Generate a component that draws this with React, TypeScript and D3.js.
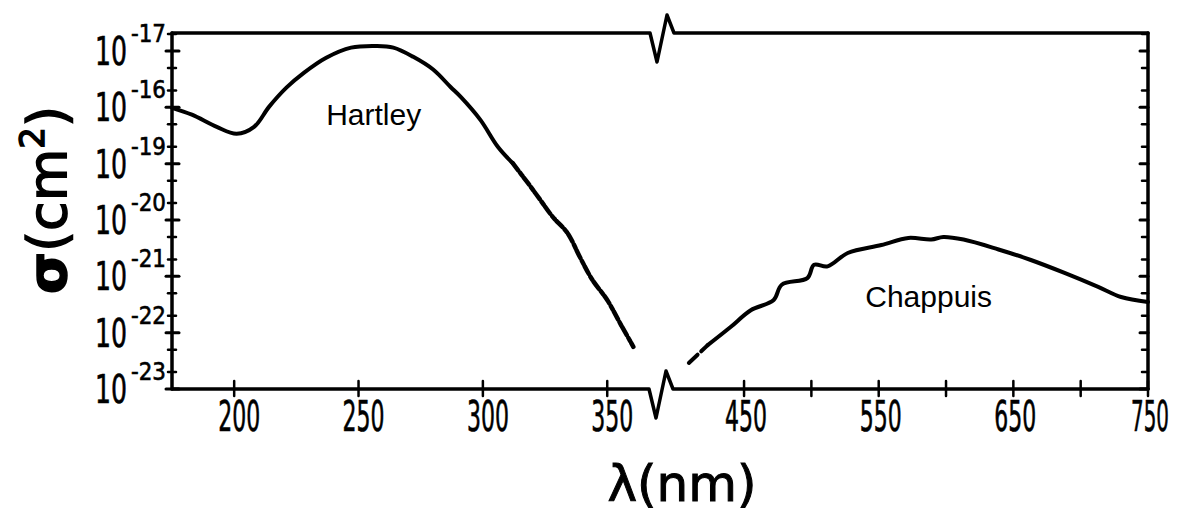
import React from "react";
import * as d3 from "d3";

// ---- data ----
const hartleyNm = [175, 183, 193, 201, 208, 214, 221, 228, 237, 247, 257, 264, 272, 280, 287, 291, 299, 306, 312, 318, 323, 328, 334, 339, 344, 350, 356, 359, 360.5];
const hartleySigma = [9.8e-19, 7.4e-19, 4.5e-19, 3.4e-19, 4.5e-19, 1.02e-18, 2.24e-18, 4.1e-18, 7.6e-18, 1.15e-17, 1.23e-17, 1.15e-17, 7.9e-18, 4.7e-18, 2.3e-18, 1.55e-18, 6.0e-19, 2.0e-19, 1.02e-19, 4.6e-20, 2.3e-20, 1.15e-20, 5.9e-21, 2.2e-21, 8.7e-22, 3.8e-22, 1.26e-22, 7.4e-23, 5.6e-23];

const chappuisNm = [409, 423, 440, 455, 472, 478, 497, 502, 512, 527, 552, 572, 589, 598, 613, 639, 663, 688, 713, 730, 750];
const chappuisSigma = [2.9e-23, 6.0e-23, 1.26e-22, 2.5e-22, 3.8e-22, 7.1e-22, 9.3e-22, 1.6e-21, 1.5e-21, 2.6e-21, 3.6e-21, 4.8e-21, 4.5e-21, 5.0e-21, 4.5e-21, 3.0e-21, 1.95e-21, 1.15e-21, 6.5e-22, 4.3e-22, 3.5e-22];

const xTicksLeft = [200, 250, 300, 350];
const xTicksRight = [450, 500, 550, 600, 650, 700, 750];
const xLabelsRight = [450, 550, 650, 750];
const yDecades = [-23, -22, -21, -20, -19, -18, -17];
const yExpLabels = ["-23", "-22", "-21", "-20", "-19", "-16", "-17"];
const minorMults = [2, 5];
const bandNames = ["Hartley", "Chappuis"];

export default function App() {
  const W = 1178, H = 508;
  const left = 172, right = 1148, top = 33, bottom = 389;
  const xL = d3.scaleLinear().domain([175, 368]).range([left, 652]);
  const xR = d3.scaleLinear().domain([395, 750]).range([670, right]);
  const yMax = Math.pow(10, -16.68);
  const y = d3.scaleLog().domain([1e-23, yMax]).range([bottom, top]);

  const hartleyPts = hartleyNm.map((n, i) => [xL(n), y(hartleySigma[i])] as [number, number]);
  const chapPts = chappuisNm.map((n, i) => [xR(n), y(chappuisSigma[i])] as [number, number]);
  const line = d3.line().curve(d3.curveCatmullRom.alpha(0.5));
  const hSplit = 18;
  const hSolid = line(hartleyPts.slice(0, hSplit + 1)) || "";
  const hTail = line(hartleyPts.slice(hSplit)) || "";
  const cHead = line(chapPts.slice(0, 2)) || "";
  const cRest = line(chapPts.slice(1)) || "";

  const bx0 = 649; // break start
  const breakPath = (yy: number, bx: number) =>
    `M${left},${yy}H${bx}L${bx + 7},${yy + 29}L${bx + 17},${yy - 18}L${bx + 24},${yy}H${right}`;

  const minorTicks: number[] = [];
  yDecades.forEach((e) => {
    minorMults.forEach((m) => {
      const v = m * Math.pow(10, e);
      if (v < yMax) minorTicks.push(v);
    });
  });

  const tickFont = "'Liberation Sans Narrow', 'DejaVu Sans Condensed', 'Liberation Sans', sans-serif";
  const sw = 3.5;

  return (
    <div style={{ position: "absolute", left: 0, top: 0 }}>
      <svg width={W} height={H} style={{ display: "block", background: "#fff" }}>
        <g fill="none" stroke="#000" strokeLinecap="round" strokeLinejoin="round">
          {/* frame */}
          <path d={breakPath(bottom, bx0)} strokeWidth={sw} />
          <path d={breakPath(top, bx0 + 1)} strokeWidth={sw} />
          <line x1={left} x2={left} y1={top} y2={bottom} strokeWidth={sw} />
          <line x1={right} x2={right} y1={top} y2={bottom} strokeWidth={sw} />
          {/* y ticks */}
          {yDecades.map((e) => (
            <g key={e}>
              <line x1={left - 6} x2={left + 7} y1={y(Math.pow(10, e))} y2={y(Math.pow(10, e))} strokeWidth={3} />
              <line x1={right - 8} x2={right} y1={y(Math.pow(10, e))} y2={y(Math.pow(10, e))} strokeWidth={3} />
            </g>
          ))}
          {minorTicks.map((v, i) => (
            <g key={i}>
              <line x1={left - 4} x2={left + 4} y1={y(v)} y2={y(v)} strokeWidth={2.5} />
              <line x1={right - 6} x2={right} y1={y(v)} y2={y(v)} strokeWidth={2.5} />
            </g>
          ))}
          {/* x ticks */}
          {xTicksLeft.map((t) => (
            <line key={t} x1={xL(t)} x2={xL(t)} y1={bottom - 8} y2={bottom + 7} strokeWidth={2.5} />
          ))}
          {xTicksRight.map((t) => (
            <line key={t} x1={xR(t)} x2={xR(t)} y1={bottom - 8} y2={bottom + 7} strokeWidth={2.5} />
          ))}
          {/* curves */}
          <path d={hSolid} strokeWidth={4} />
          <path d={hTail} strokeWidth={4.5} strokeDasharray="9 3 4 2" />
          <path d={cHead} strokeWidth={4} strokeDasharray="12 5" />
          <path d={cRest} strokeWidth={4} />
        </g>

        {/* x tick labels */}
        <g fontFamily={tickFont} fontSize={42} textAnchor="middle" fill="#000" stroke="#000" strokeWidth={0.6}>
          {xTicksLeft.map((t) => (
            <text key={t} x={xL(t) + 5} y={431} textLength={42} lengthAdjust="spacingAndGlyphs">{t}</text>
          ))}
          {xLabelsRight.map((t) => (
            <text key={t} x={xR(t) + 2} y={431} textLength={t === 750 ? 38 : 42} lengthAdjust="spacingAndGlyphs">{t}</text>
          ))}
        </g>

        {/* y tick labels */}
        <g fontFamily={tickFont} fill="#000" stroke="#000" strokeWidth={0.6}>
          {yDecades.map((e, i) => (
            <g key={e}>
              <text x={95} y={y(Math.pow(10, e)) + 14} fontSize={39} textLength={32} lengthAdjust="spacingAndGlyphs">10</text>
              <text x={131} y={y(Math.pow(10, e)) - 9} fontSize={24} textLength={35} lengthAdjust="spacingAndGlyphs">{yExpLabels[i]}</text>
            </g>
          ))}
        </g>

        {/* band labels */}
        <g fontFamily="'Liberation Sans', Arial, sans-serif" fontSize={30} fill="#000">
          <text x={xL(237)} y={125}>{bandNames[0]}</text>
          <text x={xR(540)} y={307}>{bandNames[1]}</text>
        </g>

        {/* axis titles */}
        <text transform="translate(66,200) rotate(-90)" textAnchor="middle" fontFamily="'DejaVu Sans', sans-serif" fontSize={54} fill="#000" stroke="#000" strokeWidth={1.5}>
          <tspan fontWeight="bold">σ</tspan>
          <tspan>(cm</tspan>
          <tspan fontSize={34} dy={-22}>2</tspan>
          <tspan dy={22}>)</tspan>
        </text>
        <text x={682} y={501} textAnchor="middle" fontFamily="'DejaVu Sans', sans-serif" fontSize={50} fill="#000" stroke="#000" strokeWidth={1}>λ(nm)</text>
      </svg>
    </div>
  );
}
